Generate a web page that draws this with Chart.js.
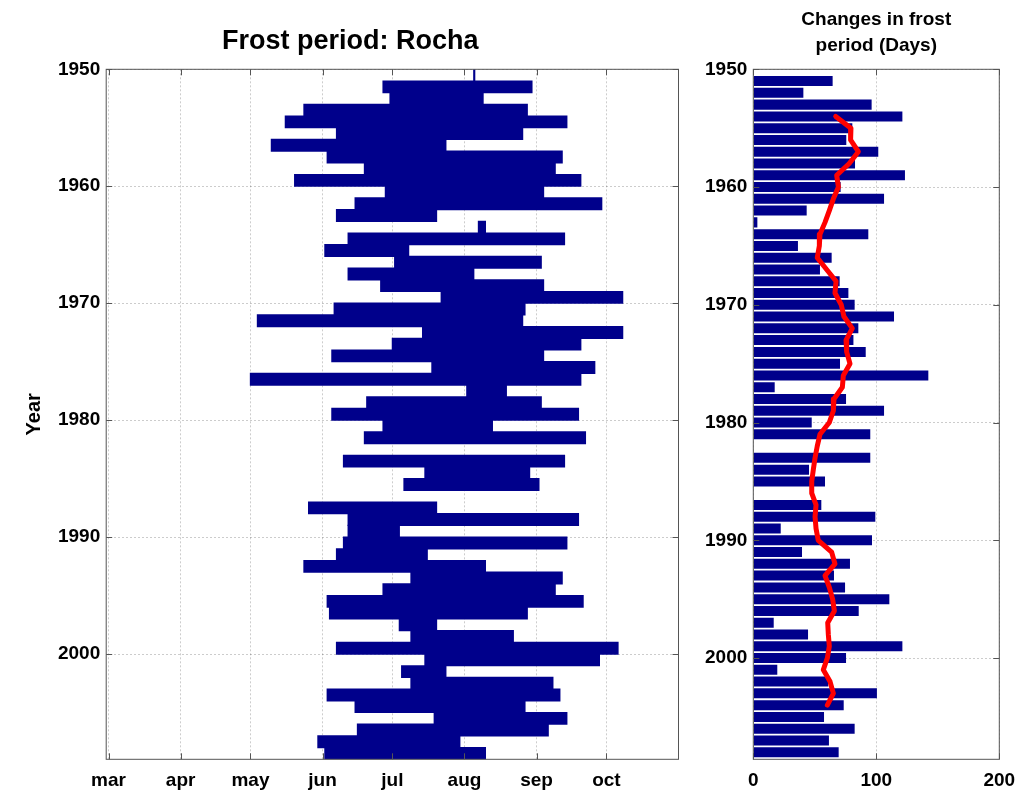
<!DOCTYPE html>
<html>
<head>
<meta charset="utf-8">
<script src="https://cdn.jsdelivr.net/npm/chart.js@4.4.1/dist/chart.umd.min.js"></script>
<style>
  body { margin: 0; background: #fff; }
  #wrap { position: relative; width: 1035px; height: 795px; }
  #c1 { position: absolute; left: 0; top: 0; }
  #c2 { position: absolute; left: 690px; top: 0; }
</style>
</head>
<body>
<div id="wrap">
  <canvas id="c1" width="690" height="795"></canvas>
  <canvas id="c2" width="345" height="795"></canvas>
</div>
<script>
// frost period per year, day of year (start / end); null = no frost
var years = [1950, 1951, 1952, 1953, 1954, 1955, 1956, 1957, 1958, 1959,
	1960, 1961, 1962, 1963, 1964, 1965, 1966, 1967, 1968, 1969,
	1970, 1971, 1972, 1973, 1974, 1975, 1976, 1977, 1978, 1979,
	1980, 1981, 1982, 1983, 1984, 1985, 1986, 1987, 1988, 1989,
	1990, 1991, 1992, 1993, 1994, 1995, 1996, 1997, 1998, 1999,
	2000, 2001, 2002, 2003, 2004, 2005, 2006, 2007, 2008];
var frostStart = [217, 178, 181, 144, 136, 158, 130, 154, 170, 140,
	179, 166, 158, 219, 163, 153, 183, 163, 177, 203,
	157, 124, 195, 182, 156, 199, 121, 214, 171, 156,
	178, 170, null, 161, 196, 187, null, 146, 163, 163,
	161, 158, 144, 190, 178, 154, 155, 185, 190, 158,
	196, 186, 190, 154, 166, 200, 167, 150, 153];
var frostEnd = [217.4, 242, 221, 240, 257, 238, 205, 255, 252, 263,
	247, 272, 201, 222, 256, 189, 246, 217, 247, 281,
	239, 238, 281, 263, 247, 269, 263, 231, 246, 262,
	225, 265, null, 256, 241, 245, null, 201, 262, 185,
	257, 197, 222, 255, 252, 264, 240, 201, 234, 279,
	271, 205, 251, 254, 239, 257, 249, 211, 222];

// month ticks (day of year)
var monthDays = [60, 91, 121, 152, 182, 213, 244, 274];
var monthLabels = ["mar", "apr", "may", "jun", "jul", "aug", "sep", "oct"];
var yearTicks = [1950, 1960, 1970, 1980, 1990, 2000];

// right panel: length of frost period (days)
var changeYears = [1951, 1952, 1953, 1954, 1955, 1956, 1957, 1958, 1959, 1960,
	1961, 1962, 1963, 1964, 1965, 1966, 1967, 1968, 1969, 1970,
	1971, 1972, 1973, 1974, 1975, 1976, 1977, 1978, 1979, 1980,
	1981, 1982, 1983, 1984, 1985, 1986, 1987, 1988, 1989, 1990,
	1991, 1992, 1993, 1994, 1995, 1996, 1997, 1998, 1999, 2000,
	2001, 2002, 2003, 2004, 2005, 2006, 2007, 2008];
var changeDays = [64.5, 40.7, 96.2, 121.2, 80.5, 75.6, 101.6, 82.7, 123.3, 71,
	106.3, 43.4, 3.3, 93.5, 36.3, 63.7, 54.2, 70.2, 77.3, 82.4,
	114.4, 85.4, 81.4, 91.4, 70.5, 142.3, 17.4, 75.4, 106.3, 47.5,
	95.1, 0, 95.1, 45.3, 58.3, 0, 55.3, 99.2, 22.3, 96.5,
	39.6, 78.6, 65.6, 74.6, 110.6, 85.7, 16.6, 44.5, 121.2, 75.4,
	19.5, 61, 100.5, 73.5, 57.5, 82.4, 61.5, 69.4];

// running mean (red curve)
var meanYears = [1954, 1955, 1956, 1957, 1958, 1959, 1960, 1961, 1962, 1963,
	1964, 1965, 1966, 1967, 1968, 1969, 1970, 1971, 1972, 1973,
	1974, 1975, 1976, 1977, 1978, 1979, 1980, 1981, 1982, 1983,
	1984, 1985, 1986, 1987, 1988, 1989, 1990, 1991, 1992, 1993,
	1994, 1995, 1996, 1997, 1998, 1999, 2000, 2001, 2002, 2003, 2004];
var meanDays = [67, 79.4, 79.1, 85.4, 78, 67.8, 69.2, 65.1, 61.8, 58.3,
	54.2, 53.7, 52, 59.6, 67.3, 66.4, 71.5, 73.7, 80.5, 75.4,
	75.9, 78.6, 73.2, 72.4, 65.6, 65.1, 61.8, 54.2, 52, 50.2,
	48.8, 47.5, 47.5, 51, 50.2, 51, 52.8, 63.7, 66.4, 58.3,
	61.8, 64.5, 65.9, 60.5, 61, 61.8, 60.2, 56.9, 62.4, 65.1, 60.2];

Chart.defaults.font.family = '"Liberation Sans", Arial, Helvetica, sans-serif';
Chart.defaults.font.weight = "bold";
Chart.defaults.font.size = 19;
Chart.defaults.color = "#000";

var navy = "#00008b";
var gridColor = "rgba(0,0,0,0.2)";

// axes box + inward tick marks, like matlab
var boxPlugin = {
	id: "box",
	afterDatasetsDraw: function (chart) {
		var ctx = chart.ctx;
		var a = chart.chartArea;
		var sx = chart.scales.x;
		var sy = chart.scales.y;
		ctx.save();
		ctx.strokeStyle = "#555";
		ctx.lineWidth = 1;
		ctx.strokeRect(a.left, a.top, a.right - a.left, a.bottom - a.top);
		ctx.beginPath();
		sx.ticks.forEach(function (t) {
			var px = Math.round(sx.getPixelForValue(t.value)) + 0.5;
			ctx.moveTo(px, a.bottom);
			ctx.lineTo(px, a.bottom - 6);
			ctx.moveTo(px, a.top);
			ctx.lineTo(px, a.top + 6);
		});
		sy.ticks.forEach(function (t) {
			var py = Math.round(sy.getPixelForValue(t.value)) + 0.5;
			ctx.moveTo(a.left, py);
			ctx.lineTo(a.left + 6, py);
			ctx.moveTo(a.right, py);
			ctx.lineTo(a.right - 6, py);
		});
		ctx.stroke();
		ctx.restore();
	},
};

function yearLabel(v) {
	return String(v);
}

var periodData = [];
for (var i = 0; i < years.length; i++) {
	if (frostStart[i] === null) continue;
	periodData.push({ y: years[i] + 0.5, x: [frostStart[i], frostEnd[i]] });
}

var ctx = document.getElementById("c1").getContext("2d");
var chart1 = new Chart(ctx, {
	type: "bar",
	data: {
		datasets: [
			{
				data: periodData,
				backgroundColor: navy,
				borderWidth: 0,
				inflateAmount: 0.6,
				barPercentage: 1,
				categoryPercentage: 1,
			},
		],
	},
	options: {
		responsive: false,
		animation: false,
		indexAxis: "y",
		layout: { padding: { left: 22, right: 11.5, top: 0, bottom: 0 } },
		plugins: {
			legend: { display: false },
			tooltip: { enabled: false },
			title: {
				display: true,
				text: "Frost period: Rocha",
				font: { size: 27, weight: "bold" },
				color: "#000",
				padding: { top: 25, bottom: 11.9 },
			},
		},
		scales: {
			x: {
				type: "linear",
				min: 59,
				max: 305,
				afterBuildTicks: function (s) {
					s.ticks = monthDays.map(function (v) { return { value: v }; });
				},
				afterFit: function (s) { s.height = 35.7; },
				ticks: {
					padding: 10,
					callback: function (v) { return monthLabels[monthDays.indexOf(v)]; },
				},
				grid: { color: gridColor, drawTicks: false },
				border: { display: false, dash: [2, 2] },
			},
			y: {
				type: "linear",
				min: 1950,
				max: 2009,
				reverse: true,
				offset: false,
				afterBuildTicks: function (s) {
					s.ticks = yearTicks.map(function (v) { return { value: v }; });
				},
				afterFit: function (s) { s.width = 84.2; },
				ticks: { padding: 6, callback: yearLabel },
				grid: { color: gridColor, drawTicks: false, offset: false },
				border: { display: false, dash: [2, 2] },
				title: {
					display: true,
					text: "Year",
					font: { size: 20, weight: "bold" },
					padding: 0,
				},
			},
		},
	},
	plugins: [boxPlugin],
});

var changeData = changeYears.map(function (y, i) { return { y: y, x: changeDays[i] }; });
var meanData = meanYears.map(function (y, i) { return { y: y, x: meanDays[i] }; });

var ctx2 = document.getElementById("c2").getContext("2d");
var chart2 = new Chart(ctx2, {
	type: "bar",
	data: {
		datasets: [
			{
				type: "line",
				data: meanData,
				borderColor: "#ff0000",
				borderWidth: 5,
				pointRadius: 0,
				borderCapStyle: "round",
				borderJoinStyle: "round",
				order: 0,
			},
			{
				data: changeData,
				backgroundColor: navy,
				borderWidth: 0,
				barPercentage: 0.85,
				categoryPercentage: 1,
				order: 1,
			},
		],
	},
	options: {
		responsive: false,
		animation: false,
		indexAxis: "y",
		layout: { padding: { left: 0, right: 35.7, top: 0, bottom: 0 } },
		plugins: {
			legend: { display: false },
			tooltip: { enabled: false },
			title: {
				display: true,
				fullSize: false,
				text: ["Changes in frost", "period (Days)"],
				font: { size: 19, weight: "bold", lineHeight: 1.35 },
				color: "#000",
				padding: { top: 7, bottom: 11 },
			},
		},
		scales: {
			x: {
				type: "linear",
				min: 0,
				max: 200,
				afterBuildTicks: function (s) {
					s.ticks = [0, 100, 200].map(function (v) { return { value: v }; });
				},
				afterFit: function (s) { s.height = 35.7; },
				ticks: { padding: 10 },
				grid: { color: gridColor, drawTicks: false },
				border: { display: false, dash: [2, 2] },
			},
			y: {
				type: "linear",
				min: 1950,
				max: 2008.6,
				reverse: true,
				offset: false,
				afterBuildTicks: function (s) {
					s.ticks = yearTicks.map(function (v) { return { value: v }; });
				},
				afterFit: function (s) { s.width = 63.3; },
				ticks: { padding: 6, callback: yearLabel },
				grid: { color: gridColor, drawTicks: false, offset: false },
				border: { display: false, dash: [2, 2] },
			},
		},
	},
	plugins: [boxPlugin],
});
</script>
</body>
</html>
